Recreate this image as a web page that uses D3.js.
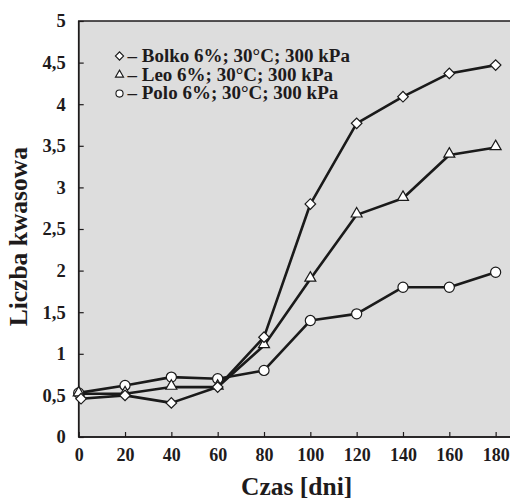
<!DOCTYPE html>
<html>
<head>
<meta charset="utf-8">
<script src="https://cdn.jsdelivr.net/npm/d3@7"></script>
<style>
  html, body { margin: 0; padding: 0; background: #fff; }
  svg { display: block; }
  text { font-family: "Liberation Serif", "Times New Roman", serif; font-weight: bold; fill: #1e1b1c; }
</style>
</head>
<body>
<svg id="chart" width="510" height="500"></svg>
<script>
// ---- data ----
const xTicks = [0, 20, 40, 60, 80, 100, 120, 140, 160, 180];
const yTicks = [0, 0.5, 1, 1.5, 2, 2.5, 3, 3.5, 4, 4.5, 5];
const yTickLabels = ["0", "0,5", "1", "1,5", "2", "2,5", "3", "3,5", "4", "4,5", "5"];

const bolkoDays = [1, 20, 40, 60, 80, 100, 120, 140, 160, 180];
const bolkoValues = [0.46, 0.50, 0.41, 0.60, 1.20, 2.80, 3.77, 4.09, 4.37, 4.47];

const leoDays = [0, 20, 40, 60, 80, 100, 120, 140, 160, 180];
const leoValues = [0.52, 0.52, 0.60, 0.60, 1.10, 1.90, 2.67, 2.87, 3.39, 3.48];

const poloDays = [0, 20, 40, 60, 80, 100, 120, 140, 160, 180];
const poloValues = [0.53, 0.62, 0.72, 0.70, 0.80, 1.40, 1.48, 1.80, 1.80, 1.98];

const legendLabels = [
  "– Bolko 6%; 30°C; 300 kPa",
  "– Leo 6%; 30°C; 300 kPa",
  "– Polo 6%; 30°C; 300 kPa"
];
const seriesShapes = ["diamond", "triangle", "circle"];

// ---- layout ----
const svg = d3.select("#chart");
const mLeft = 78.7, mTop = 21, mBottom = 437, mRight = 510;
const x = d3.scaleLinear().domain([0, 186.2]).range([mLeft, mRight]);
const y = d3.scaleLinear().domain([0, 5]).range([mBottom, mTop]);
const ink = "#1e1b1c";

svg.append("rect")
  .attr("x", mLeft).attr("y", mTop)
  .attr("width", mRight - mLeft + 5).attr("height", mBottom - mTop)
  .attr("fill", "#dddddd").attr("stroke", ink).attr("stroke-width", 1.5);

// axes
const xAxis = d3.axisBottom(x).tickValues(xTicks).tickSize(-5).tickPadding(11).tickFormat(d3.format("d"));
const gx = svg.append("g").attr("transform", `translate(0,${mBottom})`).call(xAxis);
gx.select(".domain").remove();
gx.selectAll(".tick line").attr("stroke", ink).attr("stroke-width", 1.2);
gx.selectAll("text").attr("font-size", 18).attr("fill", ink)
  .attr("font-family", "Liberation Serif").attr("font-weight", "bold");

const yAxis = d3.axisLeft(y).tickValues(yTicks).tickSize(-5).tickPadding(13)
  .tickFormat((d, i) => yTickLabels[i]);
const gy = svg.append("g").attr("transform", `translate(${mLeft},0)`).call(yAxis);
gy.select(".domain").remove();
gy.selectAll(".tick line").attr("stroke", ink).attr("stroke-width", 1.2);
gy.selectAll("text").attr("font-size", 18.5).attr("fill", ink)
  .attr("font-family", "Liberation Serif").attr("font-weight", "bold");

// axis lines on top
svg.append("line").attr("x1", mLeft).attr("x2", mLeft).attr("y1", mTop).attr("y2", mBottom)
  .attr("stroke", ink).attr("stroke-width", 1.5);
svg.append("line").attr("x1", mLeft).attr("x2", mRight).attr("y1", mBottom).attr("y2", mBottom)
  .attr("stroke", ink).attr("stroke-width", 1.5);

// titles
svg.append("text").attr("x", 296.7).attr("y", 495).attr("text-anchor", "middle")
  .attr("font-size", 25.5).text("Czas [dni]");
svg.append("text").attr("transform", "translate(26.5,236.7) rotate(-90)")
  .attr("text-anchor", "middle").attr("font-size", 25.5).text("Liczba kwasowa");

// series
const series = [
  { days: bolkoDays, values: bolkoValues, shape: "diamond" },
  { days: leoDays, values: leoValues, shape: "triangle" },
  { days: poloDays, values: poloValues, shape: "circle" }
];

const symbolFor = (shape, scale) => {
  if (shape === "diamond") return d3.symbol().type(d3.symbolSquare).size(56 * scale)();
  if (shape === "triangle") return d3.symbol().type(d3.symbolTriangle).size(52 * scale)();
  return d3.symbol().type(d3.symbolCircle).size(80 * scale)();
};

const line = d3.line().x(d => x(d[0])).y(d => y(d[1]));
series.forEach(s => {
  const pts = s.days.map((d, i) => [d, s.values[i]]);
  svg.append("path").datum(pts).attr("d", line)
    .attr("fill", "none").attr("stroke", "#1a1a1a").attr("stroke-width", 2.6)
    .attr("stroke-linejoin", "round");
});
// markers drawn after all lines
series.slice().reverse().forEach(s => {
  s.days.forEach((d, i) => {
    const rot = s.shape === "diamond" ? " rotate(45)" : "";
    const dy = s.shape === "triangle" ? -1 : 0;
    svg.append("path").attr("d", symbolFor(s.shape, 1))
      .attr("transform", `translate(${x(d)},${y(s.values[i]) + dy})${rot}`)
      .attr("fill", "#fff").attr("stroke", "#1a1a1a").attr("stroke-width", 1.2);
  });
});

// legend
const legendScale = { diamond: 0.6, triangle: 0.55, circle: 0.5 };
const legendGap = 18.8, legendY0 = 56;
legendLabels.forEach((lab, i) => {
  const cy = legendY0 + i * legendGap;
  const shp = seriesShapes[i];
  const rot = shp === "diamond" ? " rotate(45)" : "";
  svg.append("path").attr("d", symbolFor(shp, legendScale[shp]))
    .attr("transform", `translate(119.5,${cy})${rot}`)
    .attr("fill", "#fff").attr("stroke", "#1a1a1a").attr("stroke-width", 1.1);
  const t = svg.append("text").attr("x", 127.5).attr("y", cy + 5.8)
    .attr("font-size", 19).text(lab);
  const w = t.node().getComputedTextLength();
  t.attr("font-size", 16).attr("textLength", w).attr("lengthAdjust", "spacingAndGlyphs")
    .attr("transform", `translate(0,${cy + 5.8}) scale(1,1.15) translate(0,${-(cy + 5.8)})`);
});
</script>
</body>
</html>
